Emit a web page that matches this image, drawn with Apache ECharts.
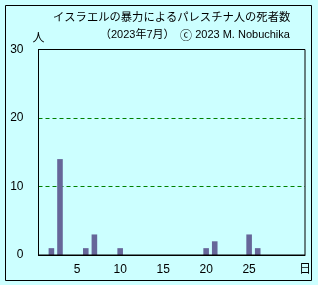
<!DOCTYPE html>
<html><head><meta charset="utf-8">
<script src="https://cdn.jsdelivr.net/npm/echarts@6/dist/echarts.min.js"></script>
<style>html,body{margin:0;padding:0;background:#ccffff}#c{width:318px;height:285px}</style>
</head><body><div id="c"></div>
<script>
const days = Array.from({length:31},(_,i)=>String(i+1));
const deaths = [0,1,14,0,0,1,3,0,0,1,0,0,0,0,0,0,0,0,0,1,2,0,0,0,3,1,0,0,0,0,0];
const xTickDays = ['5','10','15','20','25'];
const yTicks = [0,10,20,30];
const titleText = 'イスラエルの暴力によるパレスチナ人の死者数';
const chart = echarts.init(document.getElementById('c'));
const ff = 'Liberation Sans, Noto Sans CJK JP';
chart.setOption({
  backgroundColor:'#ccffff',
  animation:false,
  title:[
    {text:titleText,left:48,top:7,textStyle:{fontSize:11.3,fontWeight:'normal',color:'#000',fontFamily:ff}},
    {text:'（2023年7月）　{c|ⓒ} 2023 M. Nobuchika',left:95,top:24,
     textStyle:{fontSize:11,fontWeight:'normal',color:'#000',fontFamily:ff,
       rich:{c:{fontSize:12,fontFamily:'Noto Sans CJK JP',color:'#000'}}}}
  ],
  graphic:[
    {type:'rect',shape:{x:5.5,y:5.5,width:306,height:275},style:{fill:'none',stroke:'#000',lineWidth:1}},
    {type:'rect',z:100,shape:{x:38.5,y:49.5,width:266.5,height:205.5},style:{fill:'none',stroke:'#000',lineWidth:1}}
  ],
  grid:{left:38.5,top:49.5,right:13,bottom:30,show:false},
  xAxis:{type:'category',data:days,
    axisLine:{lineStyle:{color:'#000',width:1}},axisTick:{show:false},
    axisLabel:{interval:(i,v)=>xTickDays.includes(v),color:'#000',fontSize:12,fontFamily:ff,margin:9},
    name:'日',nameLocation:'end',nameGap:0,
    nameTextStyle:{align:'center',verticalAlign:'top',padding:[9,0,0,0],color:'#000',fontSize:12,fontFamily:ff}},
  yAxis:{type:'value',min:0,max:30,interval:10,
    axisLine:{show:true,lineStyle:{color:'#000'}},axisTick:{show:false},
    axisLabel:{color:'#000',fontSize:12,fontFamily:ff,margin:15,formatter:v=>yTicks.includes(v)?String(v):''},
    splitLine:{show:true,lineStyle:{color:'#008000',type:[4,3],width:1}},
    name:'人',nameLocation:'end',nameGap:5,
    nameTextStyle:{align:'center',color:'#000',fontSize:12,fontFamily:ff}},
  series:[{type:'bar',data:deaths,barWidth:'65%',itemStyle:{color:'#666699'}}]
});
</script></body></html>
